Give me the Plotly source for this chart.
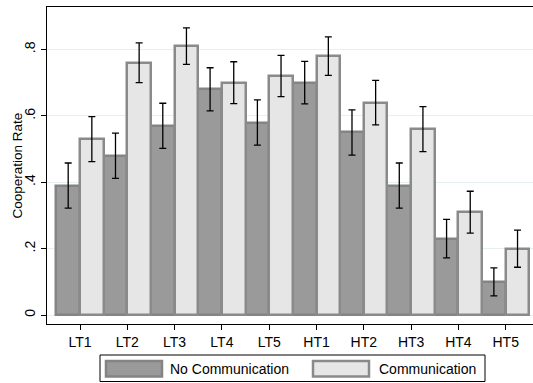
import plotly.graph_objects as go

categories = ["LT1", "LT2", "LT3", "LT4", "LT5", "HT1", "HT2", "HT3", "HT4", "HT5"]
no_comm = [0.39, 0.48, 0.57, 0.68, 0.58, 0.70, 0.55, 0.39, 0.23, 0.10]
no_comm_err = [0.068, 0.068, 0.068, 0.065, 0.068, 0.064, 0.068, 0.068, 0.058, 0.042]
comm = [0.53, 0.76, 0.81, 0.70, 0.72, 0.78, 0.64, 0.56, 0.31, 0.20]
comm_err = [0.068, 0.060, 0.055, 0.063, 0.062, 0.058, 0.067, 0.068, 0.063, 0.056]
series_names = ["No Communication", "Communication"]
y_tickvals = [0, 0.2, 0.4, 0.6, 0.8]
y_ticktext = ["0", ".2", ".4", ".6", ".8"]
y_title = "Cooperation Rate"

W, H = 533, 383
ML, MR, MT, MB = 47, 0, 7, 59
PW, PH = W - ML - MR, H - MT - MB

FONT = "Liberation Sans, Arial, Helvetica, sans-serif"
fills = ["#9a9a9a", "#e6e6e6"]
lines = ["#848484", "#8a8a8a"]

fig = go.Figure()
for name, vals, errs, fc, lc in zip(series_names, [no_comm, comm], [no_comm_err, comm_err], fills, lines):
    fig.add_trace(go.Bar(
        x=categories, y=vals, name=name,
        marker=dict(color=fc, line=dict(color=lc, width=2.5)),
        error_y=dict(type="data", array=errs, visible=True, color="black", thickness=1.3, width=3.5),
        showlegend=False,
    ))

def px_x(p):
    return (p - ML) / PW

def px_y(p):
    return (MT + PH - p) / PH

# Custom Stata-style legend
shapes = [dict(type="rect", xref="paper", yref="paper",
               x0=px_x(100), x1=px_x(485), y0=px_y(381.5), y1=px_y(355),
               line=dict(color="black", width=1), fillcolor="white")]
annotations = []
sw_left = [106, 313]
txt_left = [168, 377]
for i, name in enumerate(series_names):
    shapes.append(dict(type="rect", xref="paper", yref="paper",
                       x0=px_x(sw_left[i]), x1=px_x(sw_left[i] + 56),
                       y0=px_y(376.5), y1=px_y(361),
                       line=dict(color=lines[i], width=2.5), fillcolor=fills[i]))
    annotations.append(dict(xref="paper", yref="paper", x=px_x(txt_left[i]), y=px_y(368.5),
                            text=name, showarrow=False, xanchor="left", yanchor="middle",
                            font=dict(family=FONT, size=14, color="black")))

# y-axis title
annotations.append(dict(xref="paper", yref="paper", x=px_x(17), y=0.5, text=y_title,
                        textangle=-90, showarrow=False, xanchor="center", yanchor="middle",
                        font=dict(family=FONT, size=13.5, color="black")))

fig.update_layout(
    width=W, height=H,
    margin=dict(l=ML, r=MR, t=MT, b=MB),
    paper_bgcolor="white", plot_bgcolor="white",
    barmode="group", bargap=0, bargroupgap=0,
    font=dict(family=FONT, size=14, color="black"),
    shapes=shapes, annotations=annotations,
    showlegend=False,
)
fig.update_xaxes(
    range=[-0.698, 9.577],
    showline=True, linecolor="black", linewidth=1, mirror=True,
    ticks="outside", ticklen=5, tickcolor="black", tickwidth=1,
    showgrid=False, zeroline=False,
    tickfont=dict(family=FONT, size=14, color="black"),
)
fig.update_yaxes(
    range=[-0.027, 0.928],
    tickvals=y_tickvals, ticktext=y_ticktext, tickangle=-90,
    showline=True, linecolor="black", linewidth=1,
    ticks="outside", ticklen=5, tickcolor="black", tickwidth=1,
    showgrid=True, gridcolor="#e6eff1", gridwidth=1, zeroline=False,
    tickfont=dict(family=FONT, size=14, color="black"),
)

fig.write_html("out.html")
